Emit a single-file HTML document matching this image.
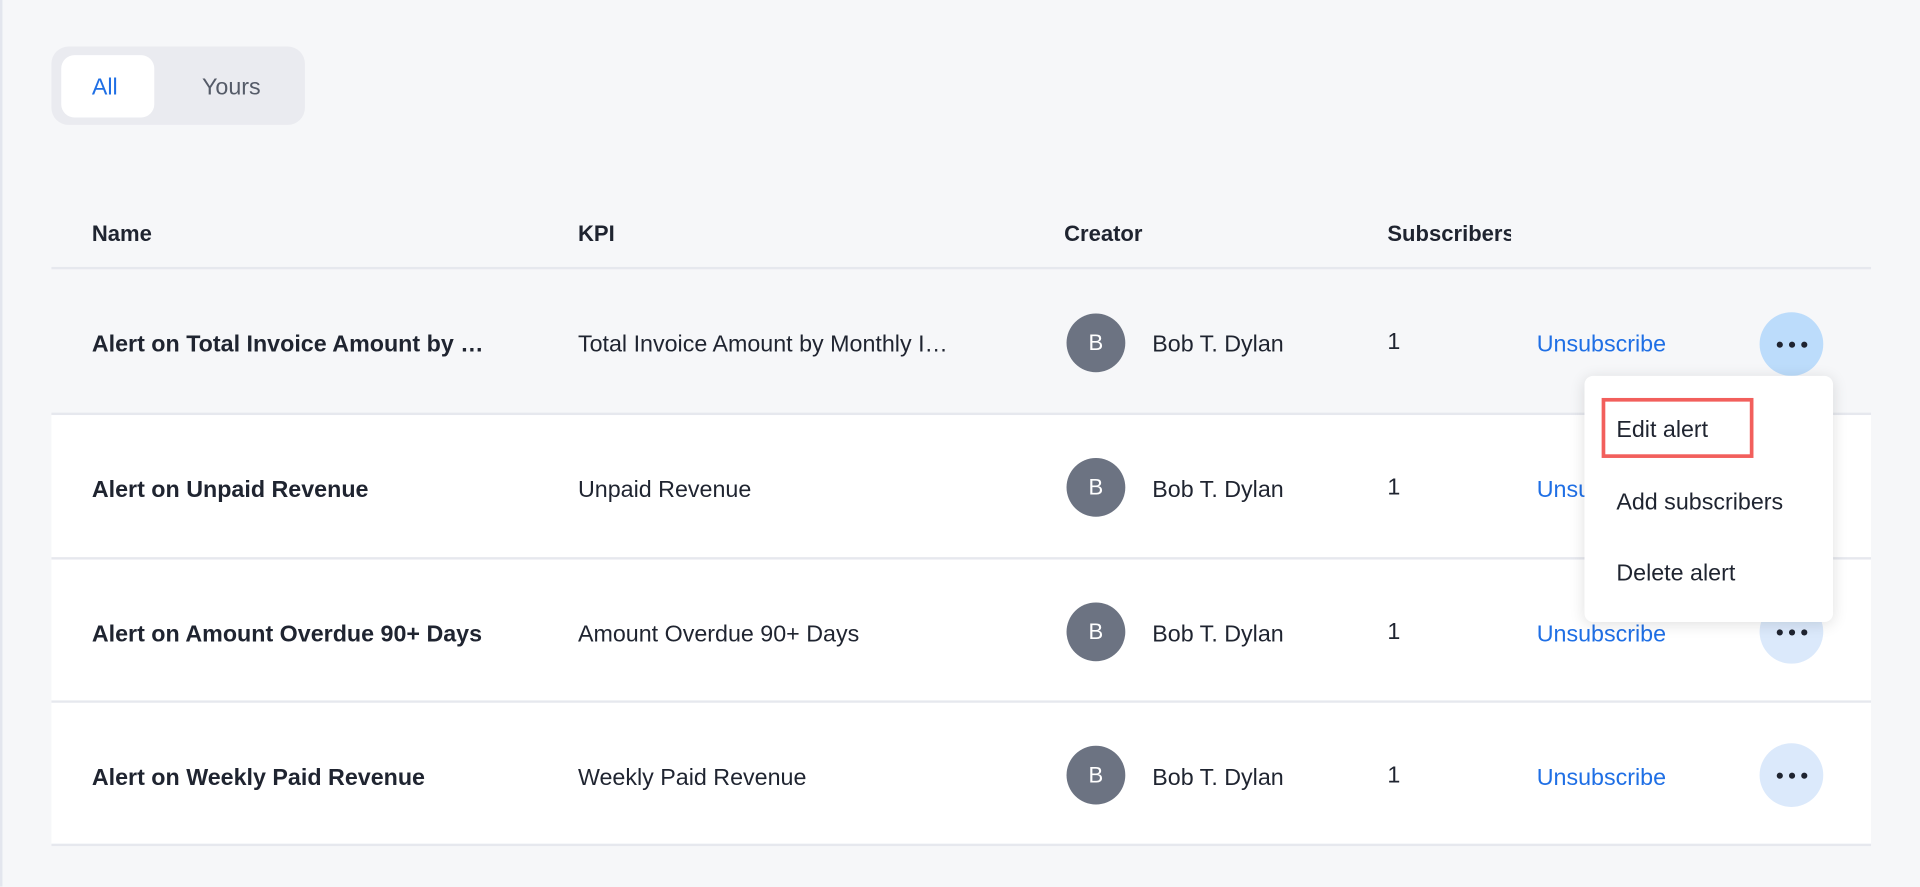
<!DOCTYPE html>
<html><head><style>
html,body{margin:0;padding:0;width:1920px;height:886px;overflow:hidden;background:#f6f7f9;}
#c{position:absolute;left:0;top:0;width:1568px;height:724px;transform:scale(1.22449);transform-origin:0 0;font-family:"Liberation Sans",sans-serif;color:#1f2430;}
.abs{position:absolute;}
.bl{left:0;top:0;width:2px;height:724px;background:#e3e6ee;}
.tog{left:42px;top:38px;width:207px;height:64px;background:#eaebf0;border-radius:14px;}
.pill{left:50px;top:45px;width:76px;height:51px;background:#fff;border-radius:11px;}
.t{font-size:19px;white-space:nowrap;}
.h{font-weight:bold;font-size:18px;top:181px;}
.row{left:42px;width:1486px;background:#fff;border-bottom:2px solid #e6e8ee;}
.cell{font-size:19px;white-space:nowrap;overflow:hidden;text-overflow:ellipsis;}
.b{font-weight:bold;}
.av{width:48px;height:48px;border-radius:50%;background:#6c7382;color:#fff;font-size:18px;text-align:center;line-height:48px;}
.un{color:#1f6fe5;font-size:19px;}
.dots{width:52px;height:52px;border-radius:50%;background:#dbe9fb;}
.dots i{position:absolute;top:24px;width:5px;height:5px;border-radius:50%;background:#1f2430;}
.menu{left:1294px;top:307px;width:203px;height:201px;background:#fff;border-radius:7px;box-shadow:0 2px 12px rgba(0,0,0,0.12);}
.mi{font-size:19px;color:#1f2430;left:1320px;}
</style></head><body><div id="c">
<div class="abs bl"></div>
<div class="abs tog"></div><div class="abs pill"></div>
<div class="abs t" style="left:75px;top:61px;color:#1f6fe5">All</div>
<div class="abs t" style="left:165px;top:61px;color:#555b68">Yours</div>
<div class="abs h" style="left:75px">Name</div>
<div class="abs h" style="left:472px">KPI</div>
<div class="abs h" style="left:869px">Creator</div>
<div class="abs h" style="left:1133px;width:101px;overflow:hidden;white-space:nowrap">Subscribers</div>
<div class="abs" style="left:42px;top:218px;width:1486px;height:2px;background:#e6e8ee"></div>

<div class="abs row" style="top:220px;height:117px;background:#f6f7f9"></div>
<div class="abs row" style="top:339px;height:116px"></div>
<div class="abs row" style="top:457px;height:115px"></div>
<div class="abs row" style="top:574px;height:115px"></div>

<div class="abs cell b" style="left:75px;top:271px;width:330px">Alert on Total Invoice Amount by Monthly</div>
<div class="abs cell" style="left:472px;top:271px;width:312px">Total Invoice Amount by Monthly Invoice</div>
<div class="abs av" style="left:871px;top:256px">B</div>
<div class="abs cell" style="left:941px;top:271px">Bob T. Dylan</div>
<div class="abs cell" style="left:1133px;top:269px">1</div>
<div class="abs un" style="left:1255px;top:271px">Unsubscribe</div>
<div class="abs dots" style="left:1437px;top:255px;background:#bcdcfb"><i style="left:14px"></i><i style="left:24px"></i><i style="left:34px"></i></div>

<div class="abs cell b" style="left:75px;top:390px">Alert on Unpaid Revenue</div>
<div class="abs cell" style="left:472px;top:390px">Unpaid Revenue</div>
<div class="abs av" style="left:871px;top:374px">B</div>
<div class="abs cell" style="left:941px;top:390px">Bob T. Dylan</div>
<div class="abs cell" style="left:1133px;top:388px">1</div>
<div class="abs un" style="left:1255px;top:390px">Unsubscribe</div>

<div class="abs cell b" style="left:75px;top:508px">Alert on Amount Overdue 90+ Days</div>
<div class="abs cell" style="left:472px;top:508px">Amount Overdue 90+ Days</div>
<div class="abs av" style="left:871px;top:492px">B</div>
<div class="abs cell" style="left:941px;top:508px">Bob T. Dylan</div>
<div class="abs cell" style="left:1133px;top:506px">1</div>
<div class="abs un" style="left:1255px;top:508px">Unsubscribe</div>
<div class="abs dots" style="left:1437px;top:490px"><i style="left:14px"></i><i style="left:24px"></i><i style="left:34px"></i></div>

<div class="abs cell b" style="left:75px;top:625px">Alert on Weekly Paid Revenue</div>
<div class="abs cell" style="left:472px;top:625px">Weekly Paid Revenue</div>
<div class="abs av" style="left:871px;top:609px">B</div>
<div class="abs cell" style="left:941px;top:625px">Bob T. Dylan</div>
<div class="abs cell" style="left:1133px;top:623px">1</div>
<div class="abs un" style="left:1255px;top:625px">Unsubscribe</div>
<div class="abs dots" style="left:1437px;top:607px"><i style="left:14px"></i><i style="left:24px"></i><i style="left:34px"></i></div>

<div class="abs menu"></div>
<div class="abs" style="left:1308px;top:325px;width:118px;height:43px;border:3px solid #f25f5c"></div>
<div class="abs mi" style="top:341px">Edit alert</div>
<div class="abs mi" style="top:400px">Add subscribers</div>
<div class="abs mi" style="top:458px">Delete alert</div>
</div></body></html>
